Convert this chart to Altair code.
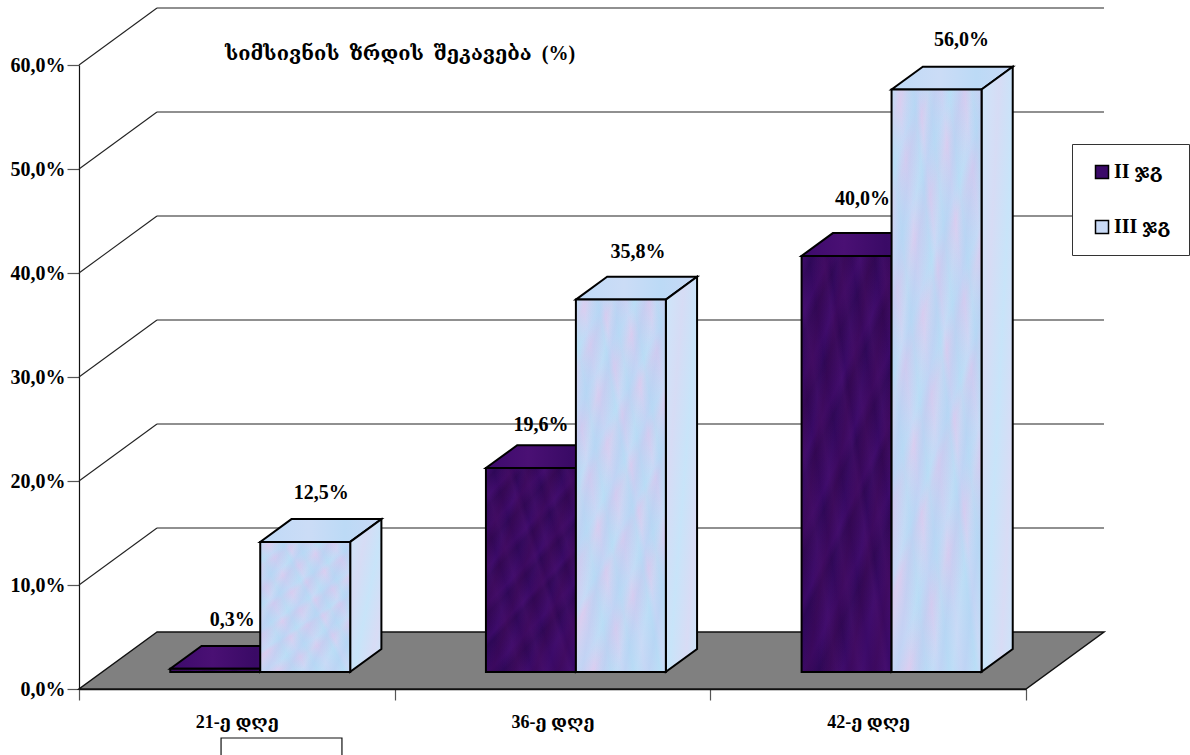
import json
import altair as alt
import pandas as pd

# Chart content
categories = ["21-ე დღე", "36-ე დღე", "42-ე დღე"]
series = ["II\u00a0ჯგ", "III\u00a0ჯგ"]
values_ii = [0.3, 19.6, 40.0]
values_iii = [12.5, 35.8, 56.0]
y_ticks = [0, 10, 20, 30, 40, 50, 60]
title_text = "სიმსივნის\u00a0\u00a0ზრდის\u00a0\u00a0შეკავება\u00a0\u00a0(%)"

# Oblique projection: one unit of depth moves a point along x (categories) and y (percent)
SKEW_X = 78 / 315.67
SKEW_Y = 57 / 10.4
DEPTH_FRONT = 0.30
DEPTH_BACK = 0.70
GAP = 0.215
BAR = 0.285

X_SCALE = alt.Scale(domain=[0, 3], nice=False, zero=False)
Y_SCALE = alt.Scale(domain=[0, 60], nice=False, zero=False)
FONT = "Liberation Serif, DejaVu Serif"

DARK = "#3b0a69"
LIGHT = "#c9daf6"


def gradient(stops, start=(0, 0), end=(1, 1)):
    return {
        "gradient": "linear", "x1": start[0], "y1": start[1], "x2": end[0], "y2": end[1],
        "stops": [{"offset": o, "color": c} for o, c in stops],
    }


def mottle(tint, alpha, offsets):
    # Soft blotches: a tint that fades in and out at uneven intervals
    clear = f"rgba({tint},0)"
    solid = f"rgba({tint},{alpha})"
    return [(o, solid if i % 2 else clear) for i, o in enumerate(offsets)]


UNEVEN_A = [0, .05, .12, .16, .25, .31, .41, .45, .56, .60, .70, .73, .84, .90, 1]
UNEVEN_B = [0, .07, .13, .24, .30, .39, .47, .51, .62, .71, .79, .88, 1]
UNEVEN_C = [0, .10, .18, .23, .35, .42, .50, .58, .68, .74, .83, .92, 1]

LIGHT_LAYERS = [
    gradient(mottle("240,190,232", 0.45, UNEVEN_A), (0, 0), (0.45, 1)),
    gradient(mottle("170,226,246", 0.50, UNEVEN_B), (1, 0), (0, 0.7)),
    gradient(mottle("176,196,240", 0.30, UNEVEN_C), (0, 0.2), (1, 0.9)),
]
DARK_LAYERS = [
    gradient(mottle("26,4,60", 0.40, UNEVEN_A), (0, 0), (0.45, 1)),
    gradient(mottle("84,22,120", 0.35, UNEVEN_B), (1, 0), (0, 0.7)),
    gradient(mottle("60,6,70", 0.30, UNEVEN_C), (0, 0.2), (1, 0.9)),
]
DARK_TOP = gradient([(0, "#3d0a6c"), (.35, "#4a1074"), (.7, "#3a0a66"), (1, "#451070")], (0, 0), (1, 0))
LIGHT_TOP = gradient([(0, "#bfdaf7"), (.4, "#cbdcf6"), (.7, "#bcdaf6"), (1, "#c8d8f5")], (0, 0), (1, 0))
LIGHT_SIDE = gradient([(0, "#cde6fa"), (.3, "#d6dcf5"), (.55, "#c8e4f9"), (.8, "#d8dcf5"), (1, "#cbe4f9")])

# Per-label nudges in pixels from the back edge of each bar's top
LABEL_NUDGE = {
    (0, 0): (17, -26), (0, 1): (16, -26),
    (1, 0): (10, -20), (1, 1): (17, -25),
    (2, 0): (16, -34), (2, 1): (25, -27),
}

fronts, tops, sides, labels = [], [], [], []
for s, vals in enumerate([values_ii, values_iii]):
    for c, v in enumerate(vals):
        left = c + GAP + s * BAR
        right = left + BAR
        key = {"series": series[s], "idx": s, "cat": categories[c]}
        fronts.append({**key,
                       "x": left + SKEW_X * DEPTH_FRONT, "x2": right + SKEW_X * DEPTH_FRONT,
                       "y": v + SKEW_Y * DEPTH_FRONT, "y2": SKEW_Y * DEPTH_FRONT})
        for d in (DEPTH_FRONT, DEPTH_BACK):
            tops.append({**key, "y": v + SKEW_Y * d,
                         "x": left + SKEW_X * d, "x2": right + SKEW_X * d})
            sides.append({**key, "x": right + SKEW_X * d,
                          "y": v + SKEW_Y * d, "y2": SKEW_Y * d})
        nx, ny = LABEL_NUDGE[(c, s)]
        labels.append({"x": (left + right) / 2 + SKEW_X * DEPTH_FRONT + nx / 315.67,
                       "y": v + SKEW_Y * DEPTH_BACK - ny / 10.4,
                       "text": f"{v:.1f}".replace(".", ",") + "%"})

fronts = pd.DataFrame(fronts)
tops = pd.DataFrame(tops)
sides = pd.DataFrame(sides)
labels = pd.DataFrame(labels)

walls = []
for t in y_ticks[1:]:
    walls.append({"x": 0, "x2": SKEW_X, "y": t, "y2": t + SKEW_Y})
    walls.append({"x": SKEW_X, "x2": 3 + SKEW_X, "y": t + SKEW_Y, "y2": t + SKEW_Y})
walls = pd.DataFrame(walls)

floor = pd.DataFrame([
    {"y": 0, "x": 0, "x2": 3},
    {"y": SKEW_Y, "x": SKEW_X, "x2": 3 + SKEW_X},
])

label_list = json.dumps(categories, ensure_ascii=False)
x_axis = alt.Axis(
    title=None, values=[0, 0.5, 1, 1.5, 2, 2.5, 3], grid=False,
    labelExpr=f"datum.value % 1 ? {label_list}[floor(datum.value)] : ''",
    tickOpacity={"condition": {"test": "datum.value % 1 != 0", "value": 0}, "value": 1},
    tickSize=11, tickColor="#555555", tickWidth=1.2, domainColor="#111111", domainWidth=1.5,
    labelFont=FONT, labelFontSize=18, labelFontWeight="bold", labelColor="black",
    labelPadding=13, labelAngle=0, labelOverlap=False, labelFlush=False, labelBound=False,
)
y_axis = alt.Axis(
    title=None, values=y_ticks, grid=False,
    labelExpr="replace(format(datum.value, '.1f'), '.', ',') + '%'",
    tickSize=12, tickColor="#555555", tickWidth=1.2, domainColor="#111111", domainWidth=1.2,
    labelFont=FONT, labelFontSize=20, labelFontWeight="bold", labelColor="black",
    labelPadding=2, labelOverlap=False, labelBound=False,
)

qx = alt.X("x:Q", scale=X_SCALE, axis=x_axis)
qy = alt.Y("y:Q", scale=Y_SCALE, axis=y_axis)

# Floor and wall lines go first so the bars sit on top of them
floor_layer = alt.Chart(floor).mark_area(
    orient="horizontal", fill="#808080", stroke="#111111", strokeWidth=1.5
).encode(x=qx, x2="x2:Q", y=qy)
wall_layer = alt.Chart(walls).mark_rule(stroke="#222222", strokeWidth=1.1).encode(
    x=qx, x2="x2:Q", y=qy, y2="y2:Q"
)


def top_layer(i, fill):
    return alt.Chart(tops[tops.idx == i]).mark_area(
        orient="horizontal", fill=fill, stroke="black", strokeWidth=2
    ).encode(x=qx, x2="x2:Q", y=qy, detail="cat:N")


def side_layer(i, fill):
    return alt.Chart(sides[sides.idx == i]).mark_area(
        fill=fill, stroke="black", strokeWidth=2
    ).encode(x=qx, y=qy, y2="y2:Q", detail="cat:N")


def front_base(i):
    return alt.Chart(fronts[fronts.idx == i]).mark_rect().encode(
        x=qx, x2="x2:Q", y=qy, y2="y2:Q",
        color=alt.Color(
            "series:N",
            scale=alt.Scale(domain=series, range=[DARK, LIGHT]),
            legend=alt.Legend(
                title=None, orient="none", legendX=993, legendY=79, padding=18, rowPadding=35,
                symbolType="square", symbolSize=169, symbolStrokeColor="black", symbolStrokeWidth=1.5,
                symbolOpacity=1, symbolOffset=2, labelOffset=2, labelFont=FONT, labelFontSize=20,
                labelFontWeight="bold", labelColor="black", fillColor="white",
                strokeColor="#333333",
            ),
        ),
    )


def front_tint(i, fill):
    return alt.Chart(fronts[fronts.idx == i]).mark_rect(fill=fill).encode(
        x=qx, x2="x2:Q", y=qy, y2="y2:Q"
    )


def front_outline(i):
    return alt.Chart(fronts[fronts.idx == i]).mark_rect(
        fillOpacity=0, stroke="black", strokeWidth=2
    ).encode(x=qx, x2="x2:Q", y=qy, y2="y2:Q")


bar_layers = [
    top_layer(0, DARK_TOP), side_layer(0, DARK_TOP),
    front_base(0), *[front_tint(0, f) for f in DARK_LAYERS], front_outline(0),
    top_layer(1, LIGHT_TOP), side_layer(1, LIGHT_SIDE),
    front_base(1), *[front_tint(1, f) for f in LIGHT_LAYERS], front_outline(1),
]

value_labels = alt.Chart(labels).mark_text(
    font=FONT, fontSize=20, fontWeight="bold", color="black", baseline="middle"
).encode(x=qx, y=qy, text="text:N")

# Empty text box below the first category label, cut off by the page edge
text_box = alt.Chart(pd.DataFrame([{"x": 0.45, "x2": 0.833, "y": -4.71, "y2": -7.5}])).mark_rect(
    fill="white", stroke="#111111", strokeWidth=1.2
).encode(x=qx, x2="x2:Q", y=qy, y2="y2:Q")

chart = alt.layer(
    floor_layer, wall_layer, *bar_layers, value_labels, text_box
).properties(
    width=947,
    height=624,
    padding={"left": 79, "top": 65, "right": 164, "bottom": 66},
    autosize=alt.AutoSizeParams(type="none"),
    background="white",
    title=alt.TitleParams(
        title_text, anchor="start", frame="group", dx=146, dy=62, offset=5,
        font=FONT, fontSize=20, fontWeight="bold", color="black",
    ),
).configure_view(stroke=None)

chart.save("out.html", embed_options={"renderer": "svg", "actions": False})
